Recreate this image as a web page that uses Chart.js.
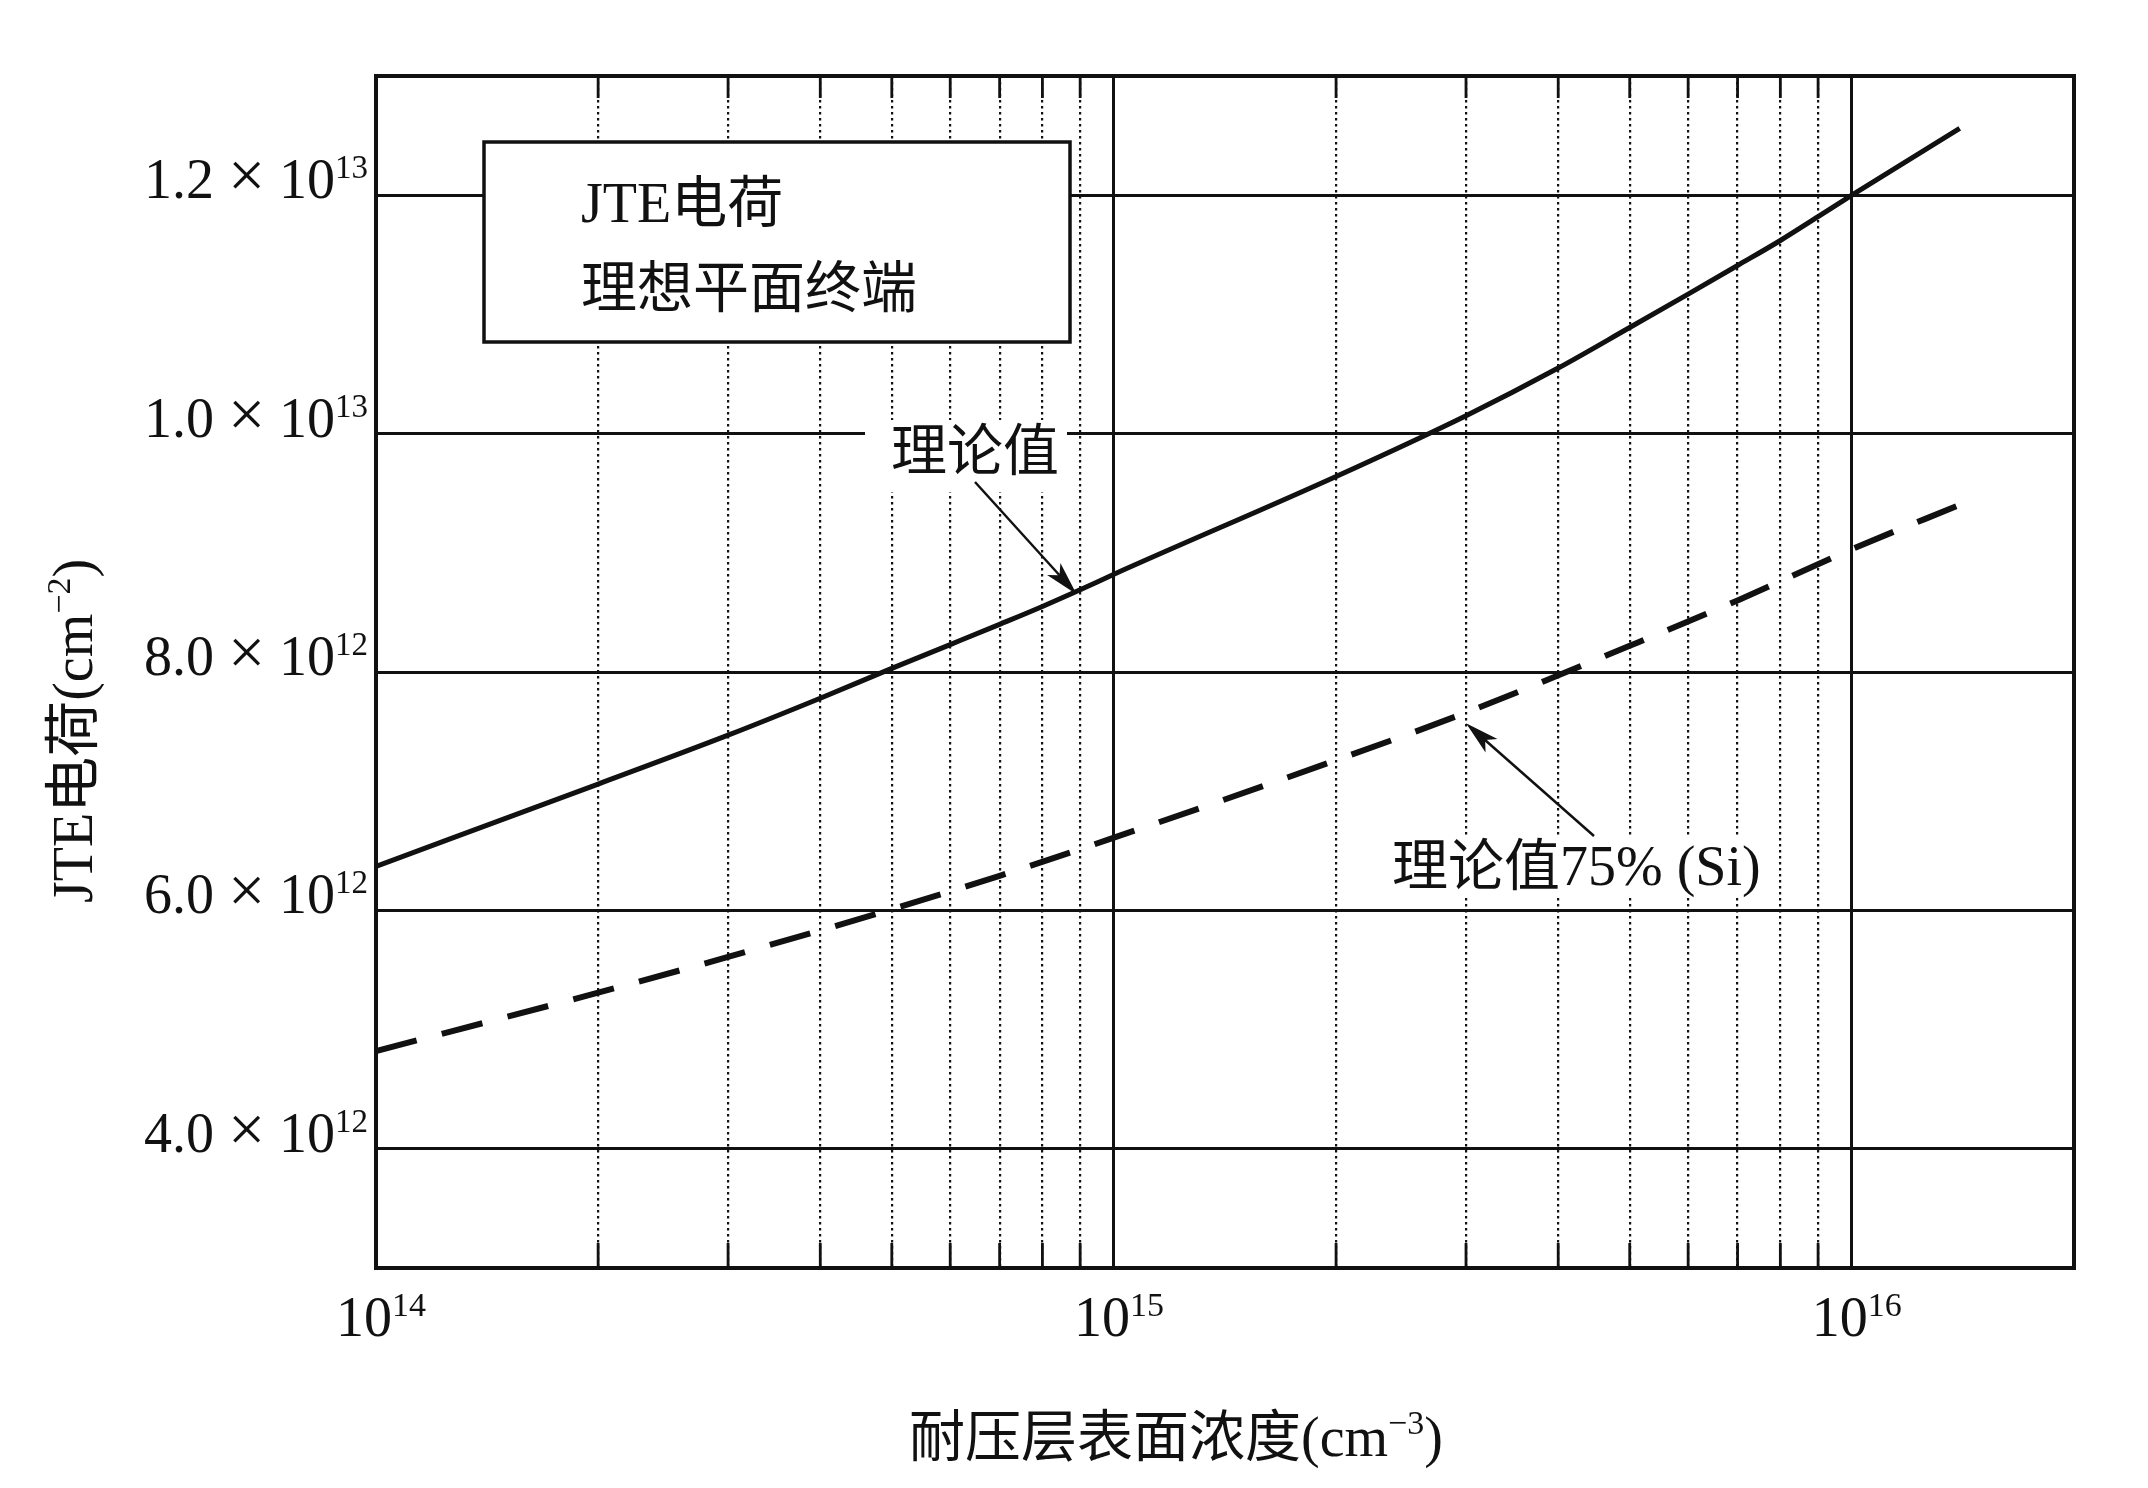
<!DOCTYPE html>
<html>
<head>
<meta charset="utf-8">
<script src="https://cdn.jsdelivr.net/npm/chart.js@4.4.1/dist/chart.umd.min.js"></script>
<style>
html, body { margin: 0; padding: 0; background: #fff; }
canvas { display: block; }
</style>
</head>
<body>
<canvas id="jteChart" width="2148" height="1488"></canvas>
<script>
// 理论值 (solid)
const idealX = [1e14, 2e14, 3e14, 4e14, 5e14, 6e14, 7e14, 8e14, 9e14, 1e15,
                2e15, 3e15, 4e15, 5e15, 6e15, 7e15, 8e15, 9e15, 1e16, 1.4e16];
const idealY = [6.37e12, 7.06e12, 7.47e12, 7.78e12, 8.03e12, 8.23e12, 8.40e12, 8.55e12, 8.69e12, 8.82e12,
                9.64e12, 10.15e12, 10.55e12, 10.89e12, 11.17e12, 11.41e12, 11.62e12, 11.82e12, 12.00e12, 12.56e12];
// 理论值75% (Si) (dashed)
const siX = [1e14, 2e14, 3e14, 5e14, 7e14, 1e15, 2e15, 3e15, 5e15, 7e15, 1e16, 1.41e16];
const siY = [4.82e12, 5.31e12, 5.61e12, 6.01e12, 6.29e12, 6.61e12, 7.26e12, 7.66e12, 8.22e12, 8.60e12, 9.03e12, 9.41e12];

const yTickValues = [4e12, 6e12, 8e12, 1e13, 1.2e13];
const yTickMantissa = ['4.0', '6.0', '8.0', '1.0', '1.2'];
const yTickExponent = ['12', '12', '12', '13', '13'];
const xDecades = [1e14, 1e15, 1e16];
const xDecadeExponent = ['14', '15', '16'];
const xMinorSteps = [2, 3, 4, 5, 6, 7, 8, 9];

const FONT = '"Liberation Serif", "Noto Sans CJK SC", serif';

function isDecade(v) {
    const l = Math.log10(v);
    return Math.abs(l - Math.round(l)) < 1e-6;
}

function toPoints(xs, ys) {
    return xs.map((x, i) => ({ x: x, y: ys[i] }));
}

function supText(ctx, parts, x, y) {
    // parts: [text, size, rise]
    let cx = x;
    parts.forEach(p => {
        ctx.font = p[1] + 'px ' + FONT;
        ctx.fillText(p[0], cx, y - p[2]);
        cx += ctx.measureText(p[0]).width;
    });
    return cx;
}

function partsWidth(ctx, parts) {
    let w = 0;
    parts.forEach(p => {
        ctx.font = p[1] + 'px ' + FONT;
        w += ctx.measureText(p[0]).width;
    });
    return w;
}

function arrow(ctx, x1, y1, x2, y2) {
    const ang = Math.atan2(y2 - y1, x2 - x1);
    const len = 34, hw = 9;
    ctx.beginPath();
    ctx.moveTo(x1, y1);
    ctx.lineTo(x2 - Math.cos(ang) * len * 0.6, y2 - Math.sin(ang) * len * 0.6);
    ctx.stroke();
    ctx.beginPath();
    ctx.moveTo(x2, y2);
    ctx.lineTo(x2 - Math.cos(ang) * len + Math.sin(ang) * hw, y2 - Math.sin(ang) * len - Math.cos(ang) * hw);
    ctx.lineTo(x2 - Math.cos(ang) * len * 0.75, y2 - Math.sin(ang) * len * 0.75);
    ctx.lineTo(x2 - Math.cos(ang) * len - Math.sin(ang) * hw, y2 - Math.sin(ang) * len + Math.cos(ang) * hw);
    ctx.closePath();
    ctx.fill();
}

const paperPlugin = {
    id: 'paper',
    beforeDatasetsDraw(chart) {
        const { ctx, chartArea: a, scales: { x } } = chart;
        ctx.save();
        ctx.strokeStyle = '#111';
        ctx.lineWidth = 2.8;
        x.ticks.forEach(t => {
            if (isDecade(t.value)) return;
            const px = x.getPixelForValue(t.value);
            ctx.beginPath();
            ctx.moveTo(px, a.top);
            ctx.lineTo(px, a.top + 22);
            ctx.moveTo(px, a.bottom);
            ctx.lineTo(px, a.bottom - 25);
            ctx.stroke();
        });
        ctx.restore();
    },
    afterDraw(chart) {
        const { ctx, chartArea: a, scales: { x, y } } = chart;
        ctx.save();
        ctx.fillStyle = '#111';
        ctx.strokeStyle = '#111';
        ctx.textBaseline = 'alphabetic';
        ctx.textAlign = 'left';

        // frame
        ctx.lineWidth = 4;
        ctx.strokeRect(a.left, a.top, a.right - a.left, a.bottom - a.top);

        // y tick labels
        yTickValues.forEach((v, i) => {
            const py = y.getPixelForValue(v) + 3;
            ctx.font = '56px ' + FONT;
            const w1 = ctx.measureText(yTickMantissa[i]).width;
            const w3 = ctx.measureText('10').width;
            ctx.font = '33px ' + FONT;
            const w4 = ctx.measureText(yTickExponent[i]).width;
            const boxW = 65;
            let sx = 368 - (w1 + boxW + w3 + w4);
            ctx.font = '56px ' + FONT;
            ctx.fillText(yTickMantissa[i], sx, py);
            ctx.font = '66px ' + FONT;
            ctx.textAlign = 'center';
            ctx.fillText('\u00d7', sx + w1 + boxW / 2, py - 1);
            ctx.textAlign = 'left';
            ctx.font = '56px ' + FONT;
            ctx.fillText('10', sx + w1 + boxW, py);
            ctx.font = '33px ' + FONT;
            ctx.fillText(yTickExponent[i], sx + w1 + boxW + w3, py - 20);
        });

        // x tick labels
        xDecades.forEach((v, i) => {
            const px = x.getPixelForValue(v);
            supText(ctx, [['10', 56, 0], [xDecadeExponent[i], 34, 20]], px - 40, 1336);
        });

        // axis titles
        const xTitle = [['耐压层表面浓度(cm', 56, 0], ['\u22123', 34, 22], [')', 56, 0]];
        supText(ctx, xTitle, 1176 - partsWidth(ctx, xTitle) / 2, 1456);

        const yTitle = [['JTE电荷(cm', 56, 0], ['\u22122', 34, 22], [')', 56, 0]];
        ctx.save();
        ctx.translate(78, 731);
        ctx.rotate(-Math.PI / 2);
        supText(ctx, yTitle, -partsWidth(ctx, yTitle) / 2, 14);
        ctx.restore();

        // legend-like text box
        ctx.fillStyle = '#fff';
        ctx.fillRect(484, 142, 586, 200);
        ctx.lineWidth = 3.5;
        ctx.strokeRect(484, 142, 586, 200);
        ctx.fillStyle = '#111';
        ctx.font = '56px ' + FONT;
        ctx.fillText('JTE电荷', 581, 222);
        ctx.fillText('理想平面终端', 581, 307);

        // 理论值 label + arrow
        ctx.fillStyle = '#fff';
        ctx.fillRect(865, 420, 202, 72);
        ctx.fillStyle = '#111';
        ctx.font = '56px ' + FONT;
        ctx.textAlign = 'center';
        ctx.fillText('理论值', 975, 470);
        ctx.lineWidth = 2.5;
        arrow(ctx, 975, 482, x.getPixelForValue(8.9e14), y.getPixelForValue(8.67e12) + 2);

        // 理论值75% (Si) label + arrow
        ctx.fillStyle = '#fff';
        ctx.fillRect(1385, 836, 392, 62);
        ctx.fillStyle = '#111';
        ctx.textAlign = 'left';
        ctx.fillText('理论值75% (Si)', 1392, 885);
        arrow(ctx, 1594, 836, x.getPixelForValue(3.0e15), y.getPixelForValue(7.57e12));

        ctx.restore();
    }
};

new Chart(document.getElementById('jteChart'), {
    type: 'line',
    data: {
        datasets: [
            {
                label: '理论值',
                data: toPoints(idealX, idealY),
                borderColor: '#111',
                borderWidth: 5,
                pointRadius: 0,
                cubicInterpolationMode: 'monotone',
                fill: false
            },
            {
                label: '理论值75% (Si)',
                data: toPoints(siX, siY),
                borderColor: '#111',
                borderWidth: 6,
                borderDash: [42, 26],
                pointRadius: 0,
                cubicInterpolationMode: 'monotone',
                fill: false
            }
        ]
    },
    options: {
        responsive: false,
        devicePixelRatio: 1,
        animation: false,
        layout: { padding: { left: 376, top: 76, right: 74, bottom: 220 } },
        plugins: {
            legend: { display: false },
            tooltip: { enabled: false }
        },
        scales: {
            x: {
                type: 'logarithmic',
                min: 1e14,
                max: 2e16,
                afterBuildTicks: (scale) => {
                    const ticks = [];
                    xDecades.forEach(d => {
                        ticks.push({ value: d });
                        if (d * 10 <= scale.max) xMinorSteps.forEach(m => ticks.push({ value: d * m }));
                    });
                    scale.ticks = ticks;
                },
                ticks: { display: false },
                grid: {
                    color: '#111',
                    lineWidth: (c) => (c.tick && isDecade(c.tick.value)) ? 3 : 2.2,
                    drawTicks: false
                },
                border: {
                    display: false,
                    dash: (c) => (c.tick && isDecade(c.tick.value)) ? [] : [2.5, 3.5]
                }
            },
            y: {
                type: 'linear',
                min: 3e12,
                max: 1.3e13,
                afterBuildTicks: (scale) => {
                    scale.ticks = yTickValues.map(v => ({ value: v }));
                },
                ticks: { display: false },
                grid: { color: '#111', lineWidth: 3, drawTicks: false },
                border: { display: false }
            }
        }
    },
    plugins: [paperPlugin]
});
</script>
</body>
</html>
